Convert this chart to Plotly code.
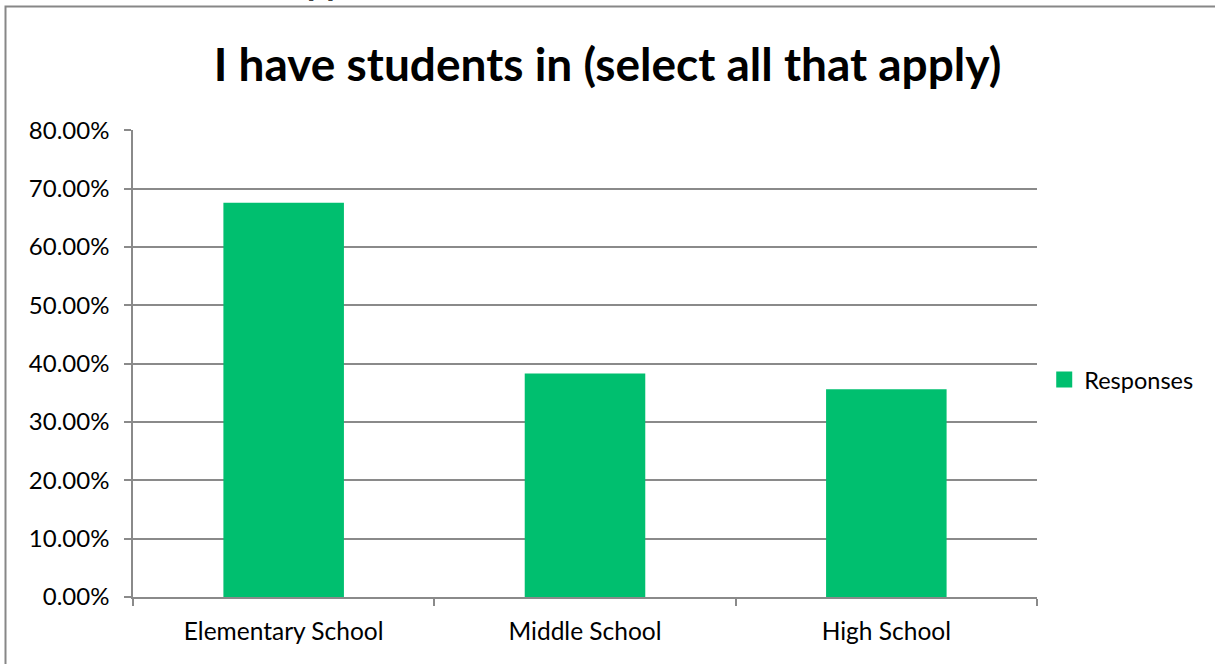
import plotly.graph_objects as go

categories = ["Elementary School", "Middle School", "High School"]
responses = [0.676, 0.383, 0.356]
y_ticks = [0, 0.1, 0.2, 0.3, 0.4, 0.5, 0.6, 0.7, 0.8]
y_tick_labels = ["0.00%", "10.00%", "20.00%", "30.00%", "40.00%", "50.00%", "60.00%", "70.00%", "80.00%"]

FONT = "Lato, 'Open Sans', sans-serif"
GRID = "#8a8a8a"
BAR = "#00BF6F"

fig = go.Figure()
fig.add_trace(go.Bar(
    x=categories, y=responses, name="Responses",
    marker=dict(color=BAR, line=dict(width=0)),
    showlegend=False,
))
# legend entry with a larger square swatch
fig.add_trace(go.Scatter(
    x=[None], y=[None], mode="markers", name="Responses",
    marker=dict(symbol="square", size=16, color=BAR),
    showlegend=True,
))

fig.update_layout(
    width=1215, height=664,
    margin=dict(l=133, r=178, t=130, b=67),
    paper_bgcolor="white", plot_bgcolor="white",
    bargap=0.6,
    title=dict(text="<b>I have students in (select all that apply)</b>",
               x=0.5, xref="container", xanchor="center", y=0.902, yanchor="middle",
               font=dict(family=FONT, size=46, color="black")),
    font=dict(family=FONT, size=24, color="black"),
    showlegend=True,
    legend=dict(x=1.008, y=0.465, xanchor="left", yanchor="middle",
                font=dict(family=FONT, size=23.5, color="black"),
                itemwidth=30, bgcolor="rgba(0,0,0,0)"),
    xaxis=dict(type="category", showline=True, linecolor=GRID, linewidth=1.5,
               ticks="outside", tickson="boundaries", ticklen=7, tickcolor=GRID, tickwidth=1.5,
               showgrid=False, ticklabelstandoff=12,
               tickfont=dict(family=FONT, size=24.5, color="black")),
    yaxis=dict(range=[0, 0.8005], tickvals=y_ticks, ticktext=y_tick_labels,
               showline=True, linecolor=GRID, linewidth=1.5,
               ticks="outside", ticklen=7, tickcolor=GRID, tickwidth=1.5,
               showgrid=True, gridcolor=GRID, gridwidth=1.5, zeroline=False,
               ticklabelstandoff=10,
               tickfont=dict(family=FONT, size=24, color="black")),
)

# outer chart frame (left and top edges visible)
fig.add_shape(type="rect", xref="paper", yref="paper",
              x0=(5.5 - 133) / 904, x1=(1225 - 133) / 904,
              y0=(597 - 680) / 467, y1=(597 - 6.5) / 467,
              line=dict(color="#878787", width=2), fillcolor="rgba(0,0,0,0)", layer="below")

# clipped descenders of text from above the frame
fig.add_annotation(text="<b>pp</b>", xref="paper", yref="paper",
                   x=(306 - 133) / 904, y=(597 - 3) / 467, xanchor="left", yanchor="bottom",
                   showarrow=False, borderpad=0,
                   font=dict(family=FONT, size=34, color="#404040"))

fig.write_html("out.html", config={"displayModeBar": False},
               post_script="document.body.style.margin='0';document.body.style.overflow='hidden';")
